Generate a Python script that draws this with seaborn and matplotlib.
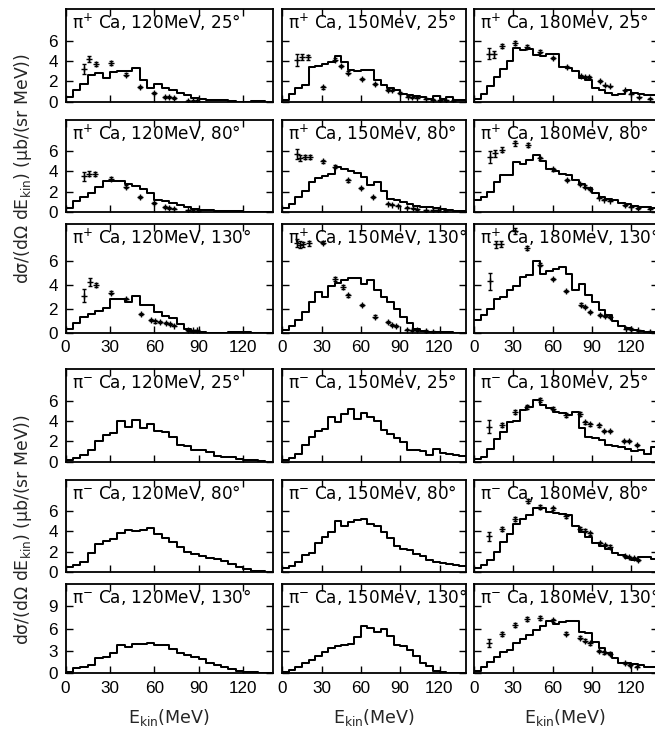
import numpy as np
import pandas as pd
import matplotlib
matplotlib.use("Agg")
import matplotlib.pyplot as plt
import seaborn as sns

# ---------------- data ----------------
bin_edges = list(range(0, 145, 5))          # 5 MeV bins, 0..140 MeV
x_ticks = [0, 30, 60, 90, 120]

energies = [120, 150, 180]
angles = [25, 80, 130]

# pi+ Ca -- model histograms (28 bins)
h_pp_120_25 = [0.5, 1.15, 1.75, 2.6, 2.8, 2.3, 2.9, 3.0, 3.05, 3.3, 2.1, 1.3, 1.75, 1.3, 1.1, 0.9, 0.65, 0.4, 0.25, 0.2, 0.2, 0.2, 0.05, 0.0, 0.0, 0.05, 0.05, 0.0]
h_pp_120_80 = [0.35, 1.05, 1.5, 1.9, 2.5, 3.0, 3.05, 3.0, 2.75, 2.55, 2.3, 1.9, 1.2, 1.05, 0.9, 0.7, 0.45, 0.3, 0.2, 0.15, 0.1, 0.05, 0.05, 0.02, 0.0, 0.0, 0.0, 0.0]
h_pp_120_130 = [0.3, 0.85, 1.35, 1.6, 1.8, 2.1, 2.85, 2.85, 2.6, 3.1, 2.35, 2.3, 1.7, 1.4, 1.2, 0.7, 0.3, 0.1, 0.05, 0.0, 0.0, 0.0, 0.02, 0.02, 0.02, 0.0, 0.0, 0.0]
h_pp_150_25 = [0.2, 0.8, 1.3, 1.6, 3.45, 3.5, 3.7, 3.85, 4.5, 3.9, 3.1, 3.0, 3.1, 3.15, 2.1, 1.65, 1.3, 1.15, 0.8, 0.65, 0.55, 0.5, 0.3, 0.55, 0.25, 0.5, 0.2, 0.15]
h_pp_150_80 = [0.33, 0.8, 1.5, 2.1, 2.95, 3.3, 3.5, 3.75, 4.45, 4.25, 4.0, 3.85, 3.45, 2.6, 2.95, 2.1, 1.3, 1.15, 1.0, 0.75, 0.6, 0.5, 0.45, 0.33, 0.25, 0.15, 0.1, 0.05]
h_pp_150_130 = [0.2, 0.6, 1.05, 1.75, 2.6, 3.4, 3.0, 3.95, 4.15, 4.45, 4.6, 4.6, 4.1, 4.4, 3.55, 3.0, 2.6, 1.95, 1.35, 0.8, 0.35, 0.15, 0.05, 0.05, 0.03, 0.03, 0.0, 0.0]
h_pp_180_25 = [0.25, 0.75, 1.55, 2.45, 3.2, 4.0, 5.25, 5.1, 5.15, 4.6, 4.45, 4.65, 4.7, 3.45, 3.3, 3.0, 2.3, 2.15, 1.35, 1.15, 0.9, 0.7, 0.75, 1.1, 0.85, 0.75, 0.7, 0.65]
h_pp_180_80 = [1.15, 1.5, 1.95, 2.95, 3.6, 3.6, 4.9, 4.7, 5.15, 5.65, 5.0, 4.25, 4.0, 3.75, 3.6, 3.1, 2.7, 2.4, 1.9, 1.5, 1.3, 1.15, 0.9, 0.75, 0.55, 0.5, 0.45, 0.4]
h_pp_180_130 = [1.05, 1.45, 2.0, 2.85, 3.0, 3.6, 3.95, 4.7, 4.85, 6.0, 4.9, 5.15, 5.35, 5.5, 4.9, 3.55, 4.1, 3.15, 2.6, 1.9, 1.45, 0.95, 0.55, 0.4, 0.25, 0.15, 0.1, 0.05]

# pi- Ca -- model histograms
h_pm_120_25 = [0.15, 0.4, 0.7, 1.2, 2.05, 2.6, 2.85, 4.0, 3.45, 4.1, 3.35, 3.75, 3.05, 2.95, 2.45, 1.65, 1.5, 1.2, 1.15, 1.0, 0.55, 0.5, 0.45, 0.25, 0.2, 0.15, 0.05, 0.0]
h_pm_120_80 = [0.5, 0.65, 1.0, 1.85, 2.7, 3.05, 3.25, 3.8, 4.15, 4.0, 4.15, 4.35, 3.75, 3.35, 2.9, 2.45, 2.0, 1.8, 1.55, 1.4, 1.25, 1.05, 0.8, 0.5, 0.3, 0.1, 0.05, 0.0]
h_pm_120_130 = [0.2, 0.65, 0.9, 1.1, 2.0, 2.25, 2.7, 3.8, 3.55, 4.0, 3.95, 4.1, 3.85, 3.8, 3.2, 2.7, 2.45, 2.15, 1.9, 1.35, 1.1, 0.8, 0.55, 0.3, 0.2, 0.15, 0.1, 0.0]
h_pm_150_25 = [0.15, 0.35, 0.8, 1.65, 2.45, 3.0, 3.25, 4.4, 3.95, 4.7, 5.2, 4.25, 4.8, 4.4, 4.05, 3.15, 2.7, 2.3, 1.95, 1.2, 1.2, 1.1, 0.65, 1.3, 0.9, 0.8, 0.65, 0.55]
h_pm_150_80 = [0.35, 0.55, 1.0, 1.65, 1.85, 2.8, 3.45, 3.95, 5.0, 4.5, 4.9, 5.1, 5.25, 4.7, 4.5, 3.95, 3.35, 2.6, 2.3, 2.15, 1.8, 1.55, 1.15, 1.0, 0.9, 0.8, 0.7, 0.6]
h_pm_150_130 = [0.2, 0.45, 0.9, 1.35, 1.85, 2.35, 2.9, 3.35, 3.65, 3.8, 3.95, 4.9, 6.35, 6.05, 5.6, 5.9, 4.95, 3.8, 3.65, 3.1, 2.35, 1.35, 1.0, 0.35, 0.15, 0.1, 0.05, 0.05]
h_pm_180_25 = [0.23, 0.5, 1.3, 2.2, 2.95, 3.95, 4.0, 5.1, 5.4, 6.05, 5.55, 5.25, 4.9, 4.75, 4.6, 4.9, 3.3, 2.45, 2.3, 2.15, 1.65, 1.5, 1.4, 1.3, 1.1, 1.2, 0.8, 1.4]
h_pm_180_80 = [0.33, 0.65, 1.2, 1.95, 2.95, 3.75, 4.75, 5.25, 5.65, 6.35, 6.35, 5.95, 5.8, 5.7, 5.6, 4.5, 3.95, 3.45, 2.85, 2.6, 2.3, 1.85, 1.65, 1.35, 1.2, 1.45, 1.5, 1.3]
h_pm_180_130 = [0.35, 0.9, 1.55, 2.25, 2.9, 3.15, 4.1, 4.55, 5.15, 5.85, 6.3, 7.05, 6.6, 6.95, 7.0, 7.05, 5.6, 5.4, 4.25, 3.35, 2.7, 2.0, 1.4, 1.35, 1.25, 1.1, 0.9, 0.8]

# experimental points: energy, value, error
x_pp_120_25 = [12.5, 16, 20.5, 31, 40.5, 50, 60, 67, 70, 73, 82.5, 86, 89]
y_pp_120_25 = [3.2, 4.15, 3.7, 3.8, 2.65, 1.45, 0.85, 0.5, 0.45, 0.35, 0.1, 0.1, 0.1]
e_pp_120_25 = [0.5, 0.3, 0.2, 0.15, 0.15, 0.12, 0.1, 0.1, 0.1, 0.08, 0.06, 0.06, 0.06]

x_pp_120_80 = [12.4, 16, 19.8, 31, 40.5, 50.5, 60, 67, 70, 73, 82.7, 86, 89.5]
y_pp_120_80 = [3.5, 3.75, 3.75, 3.25, 2.5, 1.45, 0.85, 0.45, 0.35, 0.3, 0.12, 0.1, 0.1]
e_pp_120_80 = [0.45, 0.25, 0.2, 0.15, 0.15, 0.12, 0.1, 0.08, 0.08, 0.08, 0.06, 0.06, 0.06]

x_pp_120_130 = [12.2, 16.5, 20.8, 31, 41, 51, 57.5, 60.5, 64, 67.5, 70.5, 73.5, 83, 86, 89]
y_pp_120_130 = [3.1, 4.25, 4.0, 3.35, 2.8, 1.55, 1.05, 0.95, 0.9, 0.8, 0.7, 0.6, 0.2, 0.2, 0.2]
e_pp_120_130 = [0.55, 0.3, 0.2, 0.15, 0.12, 0.1, 0.1, 0.1, 0.1, 0.08, 0.08, 0.08, 0.06, 0.06, 0.06]

x_pp_150_25 = [11, 15, 19.5, 31, 40, 45, 50.5, 60.5, 70.5, 81, 84, 89.5, 96, 99, 103, 110, 115, 120, 125, 130]
y_pp_150_25 = [4.1, 4.35, 4.35, 1.4, 4.1, 3.5, 2.85, 2.2, 1.7, 1.15, 1.1, 0.85, 0.5, 0.45, 0.4, 0.3, 0.2, 0.15, 0.12, 0.1]
e_pp_150_25 = [0.6, 0.3, 0.25, 0.15, 0.15, 0.12, 0.12, 0.1, 0.1, 0.08, 0.08, 0.08, 0.06, 0.06, 0.06, 0.05, 0.05, 0.05, 0.05, 0.05]

x_pp_150_80 = [11, 13.5, 17, 21, 31, 40, 50.5, 60, 69.5, 81, 84, 88.5, 95.5, 99.5, 103, 110, 115, 119, 124]
y_pp_150_80 = [5.75, 5.35, 5.45, 5.45, 5.0, 4.45, 3.1, 2.4, 1.5, 0.8, 0.7, 0.6, 0.4, 0.33, 0.25, 0.15, 0.15, 0.15, 0.1]
e_pp_150_80 = [0.5, 0.3, 0.2, 0.2, 0.15, 0.15, 0.12, 0.1, 0.1, 0.08, 0.08, 0.08, 0.06, 0.06, 0.06, 0.05, 0.05, 0.05, 0.05]

x_pp_150_130 = [11, 13.5, 16, 20, 31, 40, 46.5, 50.5, 60.5, 70.5, 81, 83.5, 87, 95, 99, 103, 110, 115]
y_pp_150_130 = [7.5, 7.35, 7.4, 7.5, 7.55, 4.5, 3.85, 3.15, 2.3, 1.35, 0.9, 0.65, 0.55, 0.25, 0.2, 0.2, 0.15, 0.1]
e_pp_150_130 = [0.35, 0.3, 0.2, 0.2, 0.15, 0.15, 0.15, 0.12, 0.1, 0.1, 0.08, 0.08, 0.08, 0.06, 0.06, 0.06, 0.05, 0.05]

x_pp_180_25 = [11.5, 15, 21.5, 31, 40.5, 50.5, 60.5, 71, 81.5, 84.5, 87.5, 96, 100, 104, 115, 120, 126, 134.5]
y_pp_180_25 = [4.7, 4.65, 5.45, 5.8, 5.4, 4.9, 4.3, 3.45, 2.5, 2.45, 2.4, 2.05, 1.6, 1.5, 1.1, 0.8, 0.45, 0.28]
e_pp_180_25 = [0.55, 0.35, 0.2, 0.2, 0.15, 0.15, 0.12, 0.1, 0.1, 0.1, 0.1, 0.08, 0.08, 0.08, 0.06, 0.06, 0.05, 0.05]

x_pp_180_80 = [12, 16, 21, 31.5, 41, 50.5, 60.5, 71, 81, 84.5, 88.5, 95.5, 99.5, 104, 115, 119.5, 125.5, 134.5]
y_pp_180_80 = [5.4, 5.8, 6.15, 6.8, 6.65, 5.3, 4.2, 3.1, 2.7, 2.5, 2.3, 1.4, 1.2, 1.1, 0.65, 0.5, 0.33, 0.3]
e_pp_180_80 = [0.6, 0.35, 0.25, 0.25, 0.2, 0.15, 0.12, 0.1, 0.1, 0.1, 0.1, 0.08, 0.08, 0.08, 0.06, 0.06, 0.05, 0.05]

x_pp_180_130 = [12.5, 16.5, 20.5, 31, 40.5, 50.5, 60.5, 70.5, 81.5, 85, 88.5, 96, 100, 104, 116, 120, 125, 134.5]
y_pp_180_130 = [4.3, 7.4, 7.4, 8.5, 7.1, 5.7, 4.5, 3.5, 2.35, 2.15, 1.75, 1.45, 1.4, 1.35, 0.35, 0.3, 0.2, 0.1]
e_pp_180_130 = [0.7, 0.3, 0.25, 0.25, 0.2, 0.15, 0.12, 0.1, 0.1, 0.1, 0.1, 0.08, 0.08, 0.08, 0.06, 0.06, 0.05, 0.05]

x_pm_180_25 = [11.8, 21, 31, 40.5, 50.5, 60.5, 70.5, 81, 85, 88.5, 95.5, 99.5, 104, 114.5, 118.5, 124.5]
y_pm_180_25 = [3.45, 3.65, 4.9, 5.4, 6.1, 5.2, 4.6, 4.7, 3.9, 3.7, 3.6, 3.05, 3.0, 2.05, 2.0, 1.65]
e_pm_180_25 = [0.65, 0.2, 0.2, 0.2, 0.2, 0.15, 0.15, 0.15, 0.15, 0.15, 0.15, 0.12, 0.12, 0.1, 0.1, 0.1]

x_pm_180_80 = [11.8, 21, 31, 41, 50.5, 60.5, 70.5, 81, 85, 88.5, 96, 100, 104, 115, 118.5, 122, 125]
y_pm_180_80 = [3.5, 4.25, 5.2, 7.0, 6.45, 6.3, 5.5, 4.25, 4.05, 3.8, 2.8, 2.65, 2.5, 1.6, 1.5, 1.35, 1.2]
e_pm_180_80 = [0.45, 0.2, 0.2, 0.2, 0.2, 0.15, 0.15, 0.15, 0.15, 0.15, 0.12, 0.12, 0.12, 0.1, 0.1, 0.1, 0.1]

x_pm_180_130 = [11.8, 21, 31, 40.5, 50.5, 60.5, 70.5, 81, 84.5, 88.5, 95.5, 99.5, 103.5, 115, 119, 124]
y_pm_180_130 = [4.05, 5.3, 6.45, 7.25, 7.45, 7.1, 5.3, 4.8, 4.4, 4.05, 3.0, 2.8, 2.65, 1.35, 1.1, 0.9]
e_pm_180_130 = [0.55, 0.25, 0.25, 0.25, 0.25, 0.2, 0.2, 0.2, 0.2, 0.2, 0.15, 0.15, 0.15, 0.15, 0.12, 0.12]

# ---------------- style ----------------
sns.set_theme(style="ticks")
plt.rcParams['font.family'] = ['Liberation Sans', 'DejaVu Sans']
plt.rcParams['mathtext.fontset'] = 'custom'
plt.rcParams['mathtext.rm'] = 'DejaVu Sans'
plt.rcParams['mathtext.it'] = 'DejaVu Sans:italic'
plt.rcParams['mathtext.bf'] = 'DejaVu Sans:bold'
plt.rcParams['axes.edgecolor'] = 'black'
label_family = ['DejaVu Sans']

W, H = 655, 729
fig = plt.figure(figsize=(W / 100, H / 100), dpi=100)

col_px = [(65.6, 272.8), (282.3, 465.7), (474.0, 657.5)]
row_px = [(9, 101.7), (120, 211.7), (224, 332.7), (369.3, 461.7), (480, 571.7), (584, 673.3)]

hist_grid = [
    [h_pp_120_25, h_pp_150_25, h_pp_180_25],
    [h_pp_120_80, h_pp_150_80, h_pp_180_80],
    [h_pp_120_130, h_pp_150_130, h_pp_180_130],
    [h_pm_120_25, h_pm_150_25, h_pm_180_25],
    [h_pm_120_80, h_pm_150_80, h_pm_180_80],
    [h_pm_120_130, h_pm_150_130, h_pm_180_130],
]
data_grid = [
    [(x_pp_120_25, y_pp_120_25, e_pp_120_25), (x_pp_150_25, y_pp_150_25, e_pp_150_25), (x_pp_180_25, y_pp_180_25, e_pp_180_25)],
    [(x_pp_120_80, y_pp_120_80, e_pp_120_80), (x_pp_150_80, y_pp_150_80, e_pp_150_80), (x_pp_180_80, y_pp_180_80, e_pp_180_80)],
    [(x_pp_120_130, y_pp_120_130, e_pp_120_130), (x_pp_150_130, y_pp_150_130, e_pp_150_130), (x_pp_180_130, y_pp_180_130, e_pp_180_130)],
    [None, None, (x_pm_180_25, y_pm_180_25, e_pm_180_25)],
    [None, None, (x_pm_180_80, y_pm_180_80, e_pm_180_80)],
    [None, None, (x_pm_180_130, y_pm_180_130, e_pm_180_130)],
]

centers = [e + 2.5 for e in bin_edges[:-1]]

for r in range(6):
    for c in range(3):
        x0, x1 = col_px[c]
        y0, y1 = row_px[r]
        ax = fig.add_axes([x0 / W, 1 - y1 / H, (x1 - x0) / W, (y1 - y0) / H])
        df = pd.DataFrame({'E': centers, 'w': hist_grid[r][c]})
        sns.histplot(data=df, x='E', weights='w', binwidth=5, binrange=(0, 140),
                     element='step', fill=False, color='black', linewidth=1.45, ax=ax)
        d = data_grid[r][c]
        if d is not None:
            ax.errorbar(d[0], d[1], yerr=d[2], fmt='+', color='black', ms=4.5, mew=1.0,
                        elinewidth=1.0, capsize=1.6, capthick=1.0, zorder=5, clip_on=True)
        ax.set_xlim(0, 140)
        if r == 5:
            ax.set_ylim(0, 12)
            ax.set_yticks([0, 3, 6, 9])
        else:
            ax.set_ylim(0, 9.1)
            ax.set_yticks([0, 2, 4, 6])
        ax.set_xticks(x_ticks)
        ax.set_xlabel('')
        ax.set_ylabel('')
        ax.tick_params(direction='in', length=5, width=1, top=True, right=True,
                       labelsize=12.3, pad=5.5, colors='black',
                       labelbottom=(r in (2, 5)), labelleft=(c == 0))
        for s in ax.spines.values():
            s.set_linewidth(1.3)
            s.set_color('black')
        charge = '+' if r < 3 else '-'
        title = "π$^{%s}$ Ca, %dMeV, %d°" % (charge, energies[c], angles[r % 3])
        ax.annotate(title, xy=(0, 1), xycoords='axes fraction', xytext=(6, -3),
                    textcoords='offset pixels', ha='left', va='top', fontsize=12.2,
                    family=label_family, color='black', zorder=6)

ylab = "dσ/(dΩ dE$_{\\mathrm{kin}}$) (μb/(sr MeV))"
fig.text(23 / W, 1 - 169 / H, ylab, rotation=90, ha='center', va='center', fontsize=12.4,
         family=label_family)
fig.text(23 / W, 1 - 530 / H, ylab, rotation=90, ha='center', va='center', fontsize=12.4,
         family=label_family)
for c in range(3):
    xc = (col_px[c][0] + min(col_px[c][1], 656.0)) / 2
    fig.text(xc / W, 1 - 718 / H, "E$_{\\mathrm{kin}}$(MeV)", ha='center', va='center',
             fontsize=12.6, family=label_family)

fig.savefig('out.png', dpi=100)
